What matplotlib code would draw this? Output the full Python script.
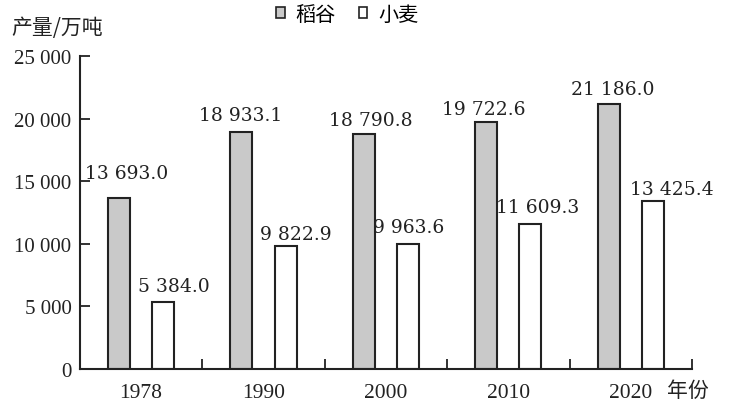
import numpy as np
import matplotlib.pyplot as plt
from matplotlib.patches import Patch

years = ['1978', '1990', '2000', '2010', '2020']
rice = [13693.0, 18933.1, 18790.8, 19722.6, 21186.0]
wheat = [5384.0, 9822.9, 9963.6, 11609.3, 13425.4]
yticks = [0, 5000, 10000, 15000, 20000, 25000]
ylabels = ['0', '5 000', '10 000', '15 000', '20 000', '25 000']

# label nudges in pixels (dx, gap above bar)
rice_dx = [8, -1, 7, -3, 4]
rice_gap = [20, 12, 9, 8, 10]
wheat_dx = [11, 10, 1, 7, 19]
wheat_gap = [11, 7, 12, 12, 7]

numfont = ['Liberation Serif', 'Noto Sans CJK SC']
valfont = ['DejaVu Serif']
cjkfont = ['Noto Sans CJK SC', 'DejaVu Sans']
ink = '#222222'

def fmt(v):
    return '{:,.1f}'.format(v).replace(',', ' ')

fig = plt.figure(figsize=(7.33, 4.06), dpi=100)
ax = fig.add_axes([0.109, 0.0887, 0.835, 0.771])

x = np.arange(len(years))
w = 0.18
off = 0.18
ax.bar(x - off, rice, w, color='#c9c9c9', edgecolor=ink, linewidth=1.5)
ax.bar(x + off, wheat, w, color='white', edgecolor=ink, linewidth=1.5)

for i in range(len(years)):
    ax.annotate(fmt(rice[i]), (x[i] - off, rice[i]), xytext=(rice_dx[i], rice_gap[i]),
                textcoords='offset pixels', ha='center', va='baseline',
                fontsize=13.5, family=valfont, color=ink)
    ax.annotate(fmt(wheat[i]), (x[i] + off, wheat[i]), xytext=(wheat_dx[i], wheat_gap[i]),
                textcoords='offset pixels', ha='center', va='baseline',
                fontsize=13.5, family=valfont, color=ink)

ax.set_xlim(-0.5, 4.5)
ax.set_ylim(0, 25000)
ax.set_yticks(yticks)
ax.set_yticklabels(ylabels, family=numfont, fontsize=15, color=ink)
ax.set_xticks(x)
ax.set_xticklabels(years, family=numfont, fontsize=15.5, color=ink)
ax.tick_params(axis='x', which='major', length=0, pad=10)
ax.set_xticks(np.arange(-0.5, 5, 1), minor=True)
ax.tick_params(axis='x', which='minor', direction='in', length=7, width=1.3, color=ink)
ax.tick_params(axis='y', direction='in', length=7, width=1.3, color=ink, pad=6)

for s in ['top', 'right']:
    ax.spines[s].set_visible(False)
for s in ['left', 'bottom']:
    ax.spines[s].set_linewidth(1.5)
    ax.spines[s].set_color(ink)

fig.text(0.939, 0.037, '年份', ha='center', va='center', fontsize=15, family=cjkfont, color=ink)
fig.text(0.016, 0.93, '产量/万吨', ha='left', va='center', fontsize=15, family=cjkfont, color=ink)

handles = [Patch(facecolor='#c9c9c9', edgecolor=ink, linewidth=1.2, label='稻谷'),
           Patch(facecolor='white', edgecolor=ink, linewidth=1.2, label='小麦')]
fig.legend(handles=handles, loc='center', bbox_to_anchor=(0.474, 0.963), ncol=2, frameon=False,
           prop={'family': cjkfont, 'size': 14.5}, handlelength=0.42, handleheight=0.42,
           handletextpad=0.55, columnspacing=1.15, borderpad=0.1)

fig.savefig('out.png', dpi=100)
